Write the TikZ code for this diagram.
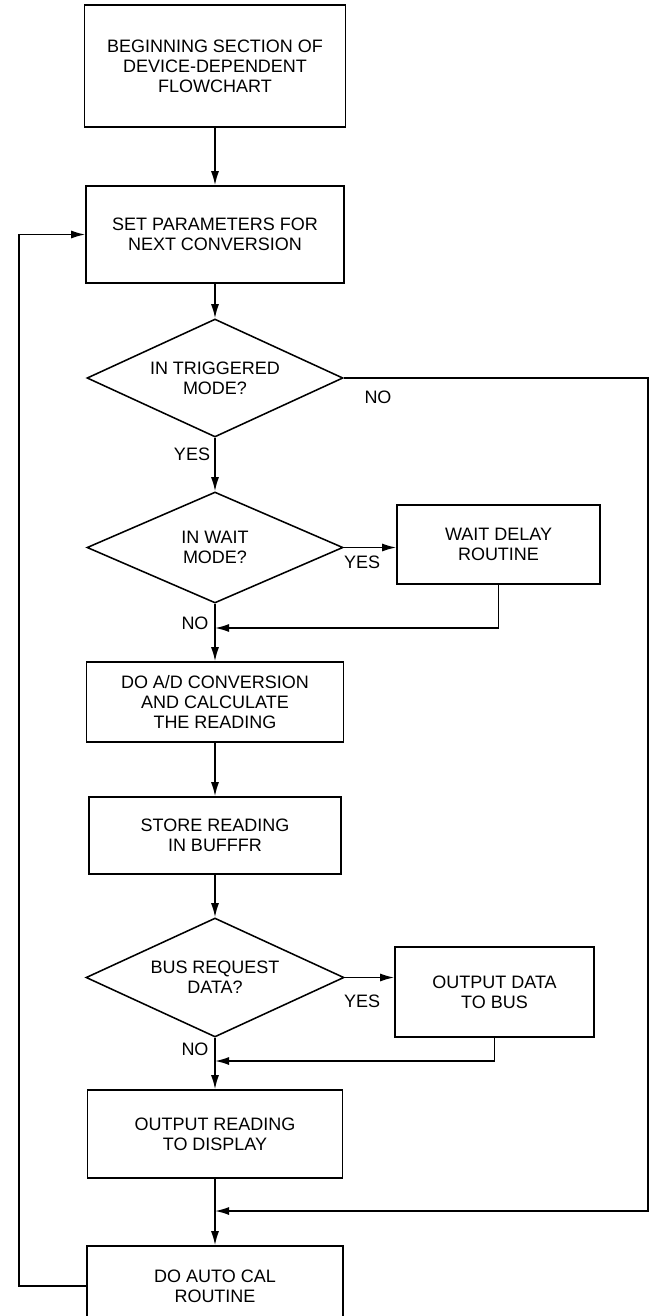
\documentclass[tikz,border=0pt]{standalone}
\usepackage{fontspec}
\setmainfont{Liberation Sans}
\usepackage{tikz}
\usetikzlibrary{arrows.meta,shapes.geometric}
\newcommand{\procbox}[5]{
  \node[box,minimum width=#3*0.25mm,minimum height=#4*0.25mm] (#1) at #2 {#5};
}
\newcommand{\decbox}[5]{
  \node[dec,minimum width=#3*0.25mm,minimum height=#4*0.25mm] (#1) at #2 {#5};
}

\begin{document}
\begin{tikzpicture}[x=0.25mm,y=-0.25mm,
    box/.style={draw,rectangle,line width=1.1pt,align=center,inner sep=0pt,
      font=\fontsize{12.8pt}{14.2pt}\selectfont},
    dec/.style={draw,diamond,aspect=2.2,line width=1.1pt,align=center,inner sep=0pt,
      font=\fontsize{12.8pt}{14.2pt}\selectfont},
    lbl/.style={font=\fontsize{12.8pt}{14.2pt}\selectfont,inner sep=0pt},
    flow/.style={draw,line width=1.1pt,-{Latex[length=3.5mm,width=2mm]}}]
  \useasboundingbox (0,0) rectangle (652,1316);
  \procbox{begin}{(215,66)}{261}{122}{BEGINNING SECTION OF\\DEVICE-DEPENDENT\\FLOWCHART}
  \procbox{setpar}{(215,234.5)}{258}{97}{SET PARAMETERS FOR\\NEXT CONVERSION}
  \decbox{trig}{(215,378)}{256}{118}{IN TRIGGERED\\MODE?}
  \decbox{waitq}{(215,547.5)}{256}{111}{IN WAIT\\MODE?}
  \procbox{waitd}{(498.5,544.5)}{203}{79}{WAIT DELAY\\ROUTINE}
  \procbox{adconv}{(215,702)}{257}{80}{DO A/D CONVERSION\\AND CALCULATE\\THE READING}
  \procbox{store}{(215,835.5)}{252}{77}{STORE READING\\IN BUFFFR}
  \decbox{busreq}{(215,977.5)}{258}{119}{BUS REQUEST\\DATA?}
  \procbox{outbus}{(494.5,992)}{199}{90}{OUTPUT DATA\\TO BUS}
  \procbox{display}{(215,1134)}{255}{88}{OUTPUT READING\\TO DISPLAY}
  \procbox{autocal}{(215,1286)}{256}{80}{DO AUTO CAL\\ROUTINE}
  % yes / no labels
  \node[lbl] (no1) at (378,397) {NO};
  \node[lbl] (yes1) at (192,454) {YES};
  \node[lbl] (yes2) at (362,562) {YES};
  \node[lbl] (no2) at (195,623) {NO};
  \node[lbl] (yes3) at (362,1001) {YES};
  \node[lbl] (no3) at (195,1049) {NO};
  % join points
  \coordinate (rt) at (648,0);
  \coordinate (lf) at (19,0);
  \coordinate (j1) at (215,628);
  \coordinate (j2) at (215,1061);
  \coordinate (j3) at (215,1211);
  \draw[flow] (begin) -- (setpar);
  \draw[flow] (setpar) -- (trig);
  \draw[flow] (trig) -- (waitq);
  \draw[flow] (waitq.east) -- (waitq.east -| waitd.west);
  \draw[flow] (waitd.south) |- (j1);
  \draw[flow] (waitq) -- (adconv);
  \draw[flow] (adconv) -- (store);
  \draw[flow] (store) -- (busreq);
  \draw[flow] (busreq.east) -- (busreq.east -| outbus.west);
  \draw[flow] (outbus.south) |- (j2);
  \draw[flow] (busreq) -- (display);
  \draw[flow] (display) -- (autocal);
  \draw[flow] (trig.east) -| (rt |- j3) -- (j3);
  \draw[flow] (autocal.west) -| (lf |- setpar.west) -- (setpar.west);
\end{tikzpicture}
\end{document}
